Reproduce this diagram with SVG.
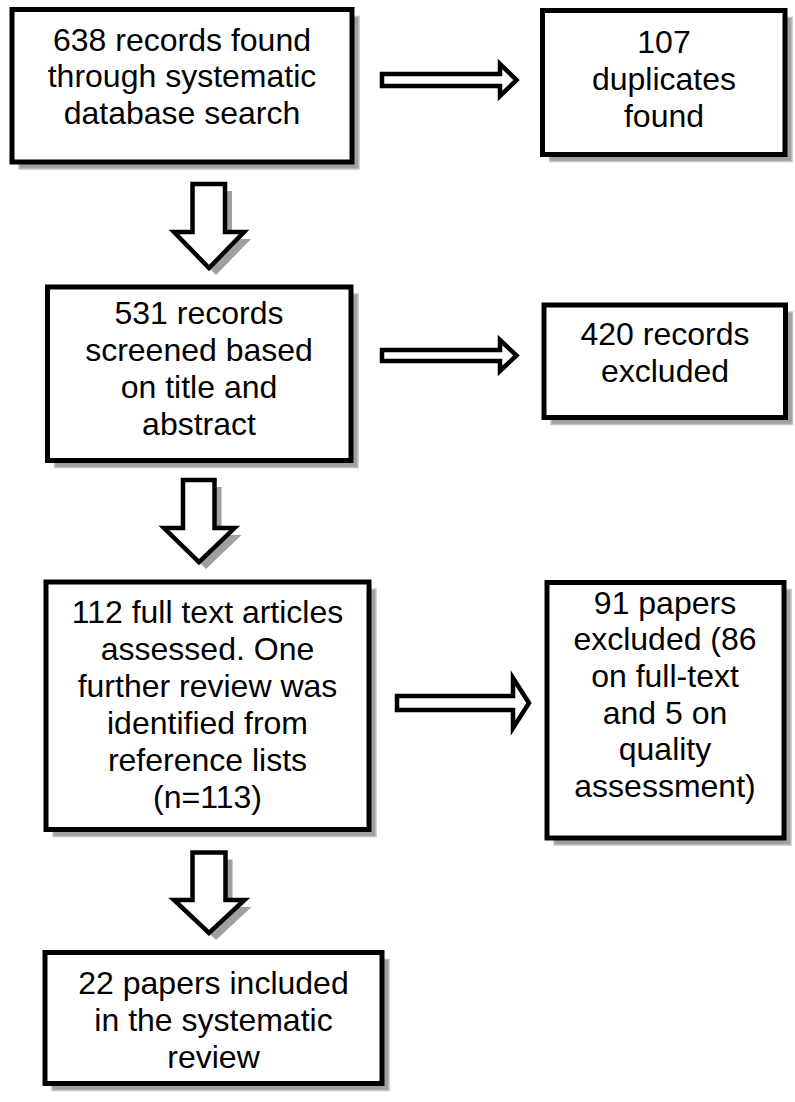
<svg xmlns="http://www.w3.org/2000/svg" width="795" height="1102" viewBox="0 0 795 1102">
<style>
.box{fill:#fff;stroke:#000;stroke-width:5}
.sh{fill:#a0a0a0;stroke:#c4c4c4;stroke-width:1.5}
.arr{fill:#fff;stroke:#000;stroke-width:4.5;stroke-linejoin:miter}
.ash{fill:#a0a0a0}
text{font-family:"Liberation Sans",Arial,sans-serif;font-size:32px;fill:#000;text-anchor:middle}
</style>
<rect width="795" height="1102" fill="#fff"/>
<g id="connectors">
  <path class="arr" d="M382,74 H500 V64 L516.5,80 L500,96 V86 H382 Z"/>
  <path class="arr" d="M382,350 H500 V340 L516.5,355.5 L500,371 V361 H382 Z"/>
  <path class="arr" d="M397,696 H513 V678 L529,703 L513,728 V710 H397 Z"/>
  <path class="ash" d="M199.5,191 H232 V239 H251 L216,275 L181,239 H199.5 Z"/>
  <path class="arr" d="M192.5,184 H225 V232 H244 L209,268 L174,232 H192.5 Z"/>
  <path class="ash" d="M190,487 H221.5 V535 H241.5 L206,569 L171,535 H190 Z"/>
  <path class="arr" d="M183,480 H214.5 V528 H234.5 L199,562 L164,528 H183 Z"/>
  <path class="ash" d="M199.5,859.5 H232.5 V907 H251.5 L216,940 L181,907 H199.5 Z"/>
  <path class="arr" d="M192.5,852.5 H225.5 V900 H244.5 L209,933 L174,900 H192.5 Z"/>
</g>
<g id="node1">
  <rect class="sh" x="19" y="16.5" width="340" height="152.5"/>
  <rect class="box" x="12" y="9.5" width="340" height="152.5"/>
  <text x="182" y="50.5">638 records found</text>
  <text x="182" y="87">through systematic</text>
  <text x="182" y="123.5">database search</text>
</g>
<g id="node2">
  <rect class="sh" x="549.5" y="17.5" width="242.5" height="144"/>
  <rect class="box" x="542.5" y="10.5" width="242.5" height="144"/>
  <text x="664" y="53">107</text>
  <text x="664" y="90">duplicates</text>
  <text x="664" y="127">found</text>
</g>
<g id="node3">
  <rect class="sh" x="54.5" y="294" width="303.5" height="173.5"/>
  <rect class="box" x="47.5" y="287" width="303.5" height="173.5"/>
  <text x="199" y="324">531 records</text>
  <text x="199" y="361">screened based</text>
  <text x="199" y="398">on title and</text>
  <text x="199" y="435">abstract</text>
</g>
<g id="node4">
  <rect class="sh" x="551" y="312" width="241.5" height="112.5"/>
  <rect class="box" x="544" y="305" width="241.5" height="112.5"/>
  <text x="665" y="345">420 records</text>
  <text x="665" y="382">excluded</text>
</g>
<g id="node5">
  <rect class="sh" x="53" y="589" width="323" height="247.5"/>
  <rect class="box" x="46" y="582" width="323" height="247.5"/>
  <text x="207.5" y="623">112 full text articles</text>
  <text x="207.5" y="660">assessed. One</text>
  <text x="207.5" y="697">further review was</text>
  <text x="207.5" y="734">identified from</text>
  <text x="207.5" y="771">reference lists</text>
  <text x="207.5" y="808">(n=113)</text>
</g>
<g id="node6">
  <rect class="sh" x="554" y="589.5" width="237" height="255.5"/>
  <rect class="box" x="547" y="582.5" width="237" height="255.5"/>
  <text x="665" y="614">91 papers</text>
  <text x="665" y="650">excluded (86</text>
  <text x="665" y="687">on full-text</text>
  <text x="665" y="724">and 5 on</text>
  <text x="665" y="760">quality</text>
  <text x="665" y="797">assessment)</text>
</g>
<g id="node7">
  <rect class="sh" x="52" y="959.5" width="337" height="131"/>
  <rect class="box" x="45" y="952.5" width="337" height="131"/>
  <text x="213.5" y="994">22 papers included</text>
  <text x="213.5" y="1031">in the systematic</text>
  <text x="213.5" y="1068">review</text>
</g>
</svg>
